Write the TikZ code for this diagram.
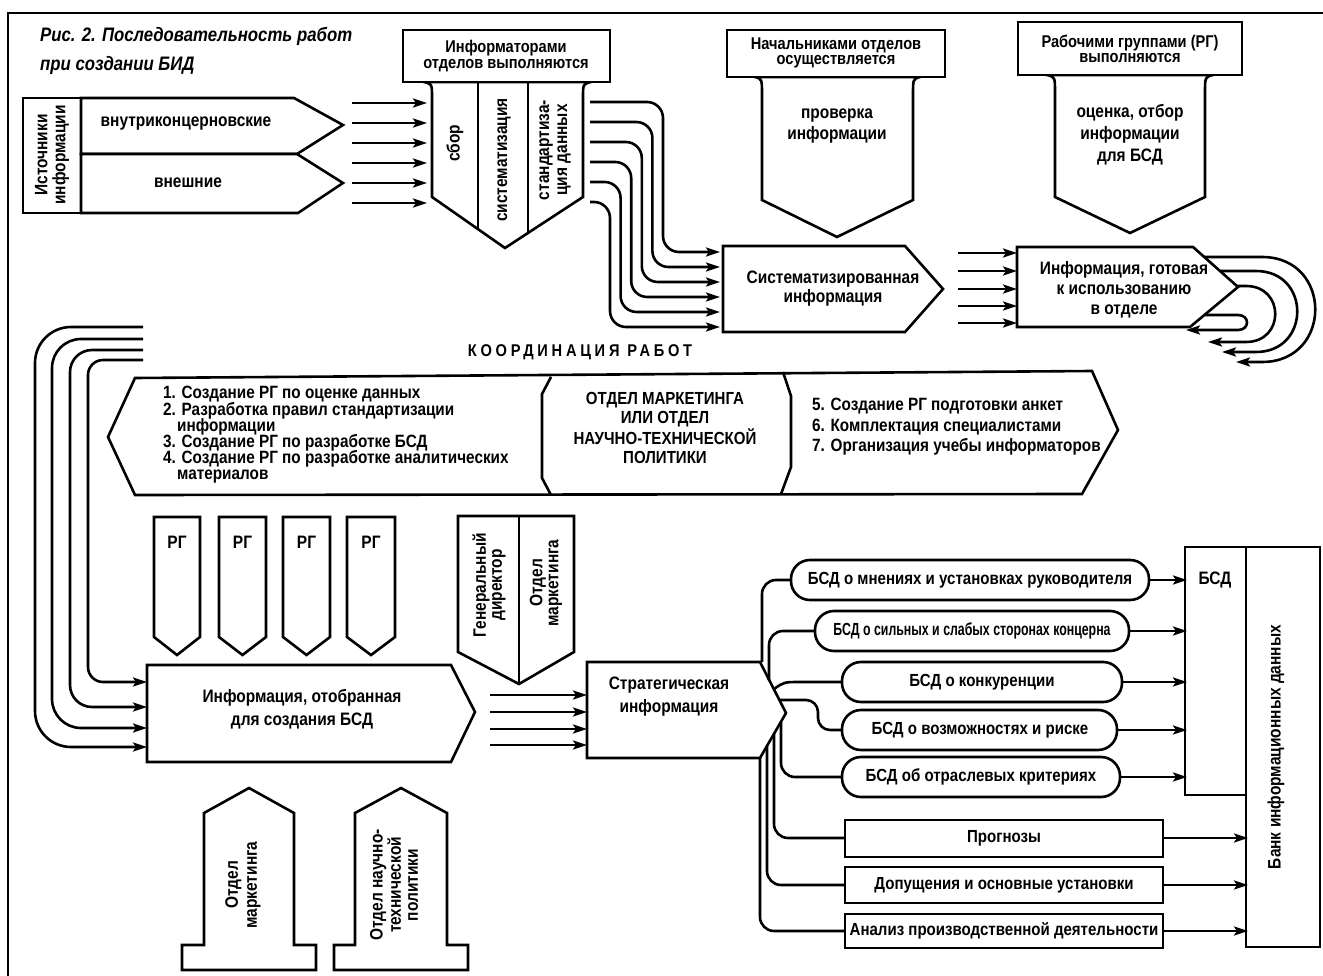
\documentclass[tikz,border=0pt]{standalone}
\usepackage{fontspec}
\usepackage{graphicx}
\setmainfont{Liberation Sans}[FakeStretch=0.86]
\usetikzlibrary{arrows.meta}
\newcommand\fsz[2]{\fontsize{#1}{#2}\selectfont}
\begin{document}
\begin{tikzpicture}[x=1pt,y=-1pt]
\tikzset{
 ln/.style={line width=2.6pt, line join=miter},
 box/.style={ln, draw=black, fill=white},
 txt/.style={font=\bfseries\fsz{18}{19}, align=center, inner sep=0pt, text=black},
 ltxt/.style={font=\bfseries\fsz{17.8}{16}, anchor=west, inner sep=0pt, text height=10pt, text depth=2pt},
 arr/.style={line width=2.6pt, -{Stealth[length=14pt,width=9pt,inset=3pt]}},
}
\useasboundingbox (0,0) rectangle (1323,976);
\fill[white] (0,0) rectangle (1323,976);
% frame
\draw[line width=1.5pt] (8,976) -- (8,13) -- (1323,13);
% title
\node[anchor=west, inner sep=0pt, font=\bfseries\itshape\fsz{19.5}{19}] (title1) at (40,36) {Рис. 2. Последовательность работ};
\node[anchor=west, inner sep=0pt, font=\bfseries\itshape\fsz{19.5}{19}] (title2) at (40,65) {при создании БИД};

% sources
\draw[box] (23,98) rectangle (81,213);
\node[txt, rotate=90, font=\bfseries\fsz{18}{18}] (srcl) at (52,155) {Источники\\информации};
\draw[box] (81,98) -- (294,98) -- (343,125) -- (297,154) -- (81,154) -- cycle;
\draw[box] (81,154) -- (297,154) -- (343,183) -- (298,213) -- (81,213) -- cycle;
\node[txt] (intern) at (186,124) {внутриконцерновские};
\node[txt] (extern) at (188,183) {внешние};
\foreach \i/\y in {1/103,2/123,3/143,4/163,5/183,6/203} {
  \coordinate (sa\i) at (352,\y); \coordinate (sb\i) at (427,\y);
  \draw[arr] (sa\i) -- (sb\i);
}

% informators
\draw[box] (424,82) .. controls (432,84) .. (432,98) -- (432,197) -- (505,248) -- (583,197) -- (583,98) .. controls (583,84) .. (591,82) -- cycle;
\draw[ln] (478,82) -- (478,230);
\draw[ln] (528,82) -- (528,232);
\draw[box] (403,30) rectangle (610,82);
\node[txt, font=\bfseries\fsz{17}{15.5}] (infor) at (506,56) {Информаторами\\отделов выполняются};
\node[txt, rotate=90] (sbor) at (455,143) {сбор};
\node[txt, rotate=90] (sistem) at (504,160) {систематизация};
\node[txt, rotate=90, font=\bfseries\fsz{18}{18}] (stand) at (555,150) {стандартиза-\\ция данных};
\foreach \i in {0,...,5} {
  \pgfmathsetmacro\ys{102+20*\i}
  \pgfmathsetmacro\xv{663-10.6*\i}
  \pgfmathsetmacro\yb{252+15*\i}
  \coordinate (ca\i) at (590,\ys); \coordinate (cb\i) at (720,\yb);
  \draw[arr, rounded corners=16pt] (ca\i) -- (\xv,\ys) -- (\xv,\yb) -- (cb\i);
}

% systematized
\draw[box] (723,246) -- (905,246) -- (943,289) -- (905,332) -- (723,332) -- cycle;
\node[txt, font=\bfseries\fsz{18}{19}] (sysinf) at (833,289) {Систематизированная\\информация};

% nachalniki
\draw[box] (755,77) .. controls (762,79) .. (762,95) -- (762,200) -- (837,237) -- (913,200) -- (913,95) .. controls (913,79) .. (920,77) -- cycle;
\draw[box] (727,30) rectangle (945,77);
\node[txt, font=\bfseries\fsz{17}{15.5}] (nach) at (836,53) {Начальниками отделов\\осуществляется};
\node[txt, font=\bfseries\fsz{18}{21}] (prov) at (837,126) {проверка\\информации};

% rabochie gruppy
\draw[box] (1047,75) .. controls (1055,77) .. (1055,93) -- (1055,197) -- (1130,233) -- (1205,197) -- (1205,93) .. controls (1205,77) .. (1213,75) -- cycle;
\draw[box] (1018,22) rectangle (1242,75);
\node[txt, font=\bfseries\fsz{17}{15.5}] (rab) at (1130,49) {Рабочими группами (РГ)\\выполняются};
\node[txt, font=\bfseries\fsz{18}{22}] (ocen) at (1130,135) {оценка, отбор\\информации\\для БСД};

% arrows to ready
\foreach \i/\y in {1/253,2/271,3/289,4/306,5/323} {
  \coordinate (ra\i) at (958,\y); \coordinate (rb\i) at (1017,\y);
  \draw[arr] (ra\i) -- (rb\i);
}
\draw[box] (1017,247) -- (1193,247) -- (1238,287) -- (1190,327) -- (1017,327) -- cycle;
\node[txt, font=\bfseries\fsz{18}{20}] (ready) at (1124,290) {Информация, готовая\\к использованию\\в отделе};
% loops
\coordinate (la1) at (1205,257); \coordinate (lb1) at (1236,362);
\coordinate (la2) at (1221,271); \coordinate (lb2) at (1222,352);
\coordinate (la3) at (1236,286); \coordinate (lb3) at (1208,342);
\coordinate (la4) at (1205,315); \coordinate (lb4) at (1186,330);
\draw[arr] (la1) -- (1262,257) .. controls (1333,257) and (1333,362) .. (1262,362) -- (lb1);
\draw[arr] (la2) -- (1256,271) .. controls (1311,271) and (1311,352) .. (1256,352) -- (lb2);
\draw[arr] (la3) -- (1246,286) .. controls (1285,286) and (1285,342) .. (1246,342) -- (lb3);
\draw[arr] (la4) -- (1238,315) .. controls (1250,315) and (1250,330) .. (1238,330) -- (lb4);

% coordination
\node[font=\bfseries\fsz{17}{17}\addfontfeature{LetterSpace=22}, inner sep=0pt] (coord) at (580,352) {КООРДИНАЦИЯ РАБОТ};
\draw[box] (135,378) -- (1092,371) -- (1118,430) -- (1082,494) -- (135,495) -- (108,437) -- cycle;
\draw[ln] (551,377) -- (542,394) -- (542,478) -- (551,495);
\draw[ln] (783,372) -- (791,396) -- (791,467) -- (781,494);
\node[ltxt] (l1) at (163,395) {1. Создание РГ по оценке данных};
\node[ltxt] (l2) at (163,411) {2. Разработка правил стандартизации};
\node[ltxt] (l3) at (177,427) {информации};
\node[ltxt] (l4) at (163,443) {3. Создание РГ по разработке БСД};
\node[ltxt] (l5) at (163,459) {4. Создание РГ по разработке аналитических};
\node[ltxt] (l6) at (177,475) {материалов};
\node[txt, font=\bfseries\fsz{17.5}{19}] (otdel) at (665,428) {ОТДЕЛ МАРКЕТИНГА\\ИЛИ ОТДЕЛ\\НАУЧНО-ТЕХНИЧЕСКОЙ\\ПОЛИТИКИ};
\node[ltxt] (r5) at (812,406) {5. Создание РГ подготовки анкет};
\node[ltxt] (r6) at (812,427) {6. Комплектация специалистами};
\node[ltxt] (r7) at (812,447) {7. Организация учебы информаторов};

% left lines
\foreach \i/\ys/\xv/\yb/\r in {0/327/35/747/36, 1/339/52/728/29, 2/350/70/707/22, 3/360/88/682/15} {
  \coordinate (ka\i) at (143,\ys); \coordinate (kb\i) at (147,\yb);
  \draw[arr, rounded corners=\r pt] (ka\i) -- (\xv,\ys) -- (\xv,\yb) -- (kb\i);
}

% RG boxes
\foreach \i/\xa/\xb in {1/154/200, 2/219/266, 3/283/330, 4/347/395} {
  \draw[box] (\xa,517) -- (\xb,517) -- (\xb,637) -- ({(\xa+\xb)/2},655) -- (\xa,637) -- cycle;
  \node[txt] (rg\i) at ({(\xa+\xb)/2},542) {РГ};
}

% general director
\draw[box] (458,516) -- (574,516) -- (574,652) -- (519,684) -- (458,652) -- cycle;
\draw[ln] (519,516) -- (519,684);
\node[txt, rotate=90, font=\bfseries\fsz{18}{16}] (gendir) at (489,585) {Генеральный\\директор};
\node[txt, rotate=90, font=\bfseries\fsz{18}{16}] (otdm1) at (546,583) {Отдел\\маркетинга};

% selected info
\draw[box] (147,665) -- (451,665) -- (475,712) -- (451,762) -- (147,762) -- cycle;
\node[txt, font=\bfseries\fsz{18}{23}] (selinf) at (302,709) {Информация, отобранная\\для создания БСД};
\foreach \i/\y in {1/695,2/712,3/729,4/745} {
  \coordinate (ga\i) at (490,\y); \coordinate (gb\i) at (587,\y);
  \draw[arr] (ga\i) -- (gb\i);
}
% strategic
\draw[box] (587,662) -- (760,662) -- (786,713) -- (760,758) -- (587,758) -- cycle;
\node[txt, font=\bfseries\fsz{18}{23}] (strat) at (669,697) {Стратегическая\\информация};

% bottom up arrows
\draw[box] (249,788) -- (294,813) -- (294,945) -- (316,945) -- (316,970) -- (182,970) -- (182,945) -- (204,945) -- (204,813) -- cycle;
\node[txt, rotate=90, font=\bfseries\fsz{18}{19}] (otdm2) at (243,885) {Отдел\\маркетинга};
\draw[box] (401,788) -- (447,813) -- (447,945) -- (468,945) -- (468,970) -- (334,970) -- (334,945) -- (355,945) -- (355,813) -- cycle;
\node[txt, rotate=90, font=\bfseries\fsz{18}{17}] (otdnt) at (394,885) {Отдел научно-\\технической\\политики};

% right section
\draw[box] (1185,547) rectangle (1246,795);
\draw[box] (1246,547) rectangle (1320,947);
\node[txt] (bsd) at (1215,580) {БСД};
\node[txt, rotate=90] (bank) at (1276,747) {Банк информационных данных};

\tikzset{stad/.style={box, rounded corners=19pt}}
\draw[stad] (791,560) rectangle (1149,600);
\node[txt, font=\bfseries\fsz{17.5}{17}] (b1) at (970,580) {БСД о мнениях и установках руководителя};
\draw[stad] (815,611) rectangle (1129,651);
\node[txt, font=\bfseries\fsz{17.5}{17}] (b2) at (972,631) {\scalebox{0.82}[1]{БСД о сильных и слабых сторонах концерна}};
\draw[stad] (842,662) rectangle (1122,702);
\node[txt, font=\bfseries\fsz{17.5}{17}] (b3) at (982,682) {БСД о конкуренции};
\draw[stad] (842,710) rectangle (1117,750);
\node[txt, font=\bfseries\fsz{17.5}{17}] (b4) at (980,730) {БСД о возможностях и риске};
\draw[stad] (842,757) rectangle (1120,797);
\node[txt, font=\bfseries\fsz{17.5}{17}] (b5) at (981,777) {БСД об отраслевых критериях};
\draw[box] (845,820) rectangle (1163,857);
\node[txt, font=\bfseries\fsz{17.5}{17}] (b6) at (1004,838) {Прогнозы};
\draw[box] (845,867) rectangle (1163,903);
\node[txt, font=\bfseries\fsz{17.5}{17}] (b7) at (1004,885) {Допущения и основные установки};
\draw[box] (845,914) rectangle (1163,948);
\node[txt, font=\bfseries\fsz{17.5}{17}] (b8) at (1004,931) {Анализ производственной деятельности};

% branches
\draw[ln, rounded corners=14pt] (762,662) -- (762,580) -- (791,580);
\draw[ln, rounded corners=14pt] (769,680) -- (769,631) -- (815,631);
\draw[ln] (774,689) .. controls (784,682) .. (800,682) -- (842,682);
\draw[ln, rounded corners=12pt] (779,700) -- (818,700) -- (818,730) -- (842,730);
\draw[ln, rounded corners=14pt] (781,722) -- (781,777) -- (842,777);
\draw[ln, rounded corners=14pt] (774,734) -- (774,838) -- (845,838);
\draw[ln, rounded corners=14pt] (767,746) -- (767,885) -- (845,885);
\draw[ln, rounded corners=14pt] (760,758) -- (760,931) -- (845,931);

% arrows to BSD / bank
\foreach \i/\xa/\y in {1/1149/580, 2/1129/631, 3/1122/682, 4/1117/730, 5/1120/777} {
  \coordinate (da\i) at (\xa,\y); \coordinate (db\i) at (1187,\y);
  \draw[arr] (da\i) -- (db\i);
}
\foreach \i/\y in {6/838, 7/885, 8/931} {
  \coordinate (da\i) at (1163,\y); \coordinate (db\i) at (1248,\y);
  \draw[arr] (da\i) -- (db\i);
}
\end{tikzpicture}
\end{document}
